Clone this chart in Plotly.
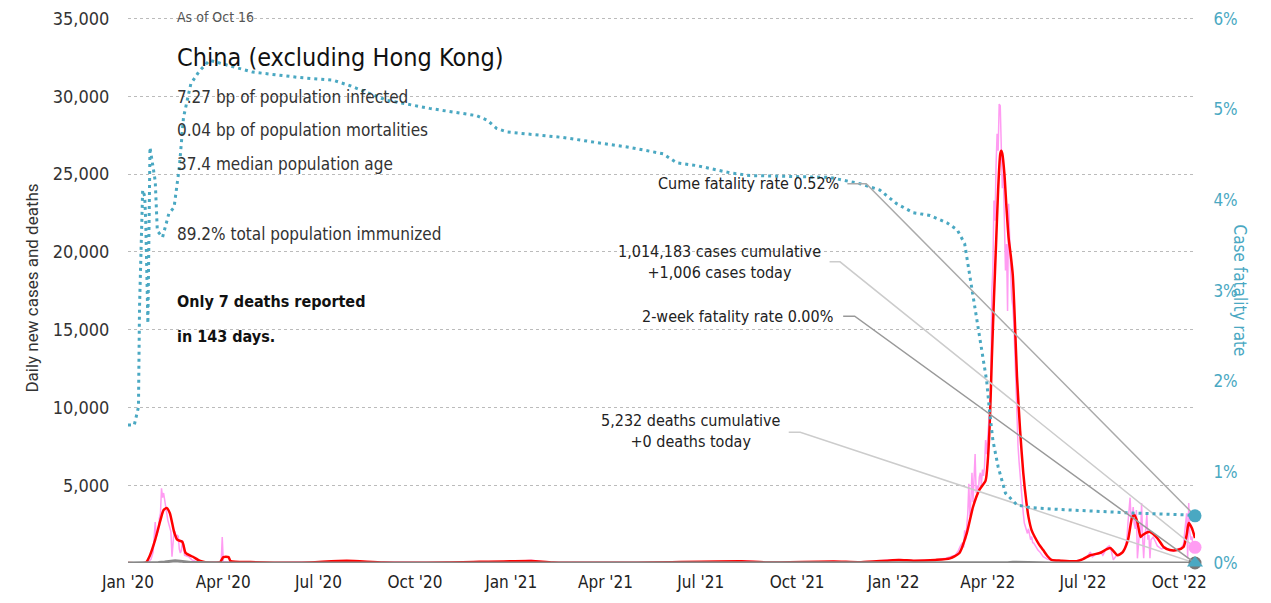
import plotly.graph_objects as go

# ---- 데이터 ----
avg_dates = [
    "2020-01-01", "2020-01-18", "2020-01-22", "2020-01-27", "2020-02-01", "2020-02-04",
    "2020-02-07", "2020-02-10", "2020-02-14", "2020-02-17", "2020-02-22", "2020-02-25",
    "2020-03-03", "2020-03-10", "2020-03-16", "2020-03-29", "2020-04-01", "2020-04-06",
    "2020-04-08", "2020-04-27", "2020-06-15", "2020-07-28", "2020-09-01", "2020-11-01",
    "2021-01-20", "2021-02-10", "2021-05-01", "2021-08-09", "2021-09-01", "2021-11-05",
    "2021-12-01", "2022-01-06", "2022-01-20", "2022-02-10", "2022-02-24", "2022-03-05",
    "2022-03-12", "2022-03-18", "2022-03-24", "2022-03-30", "2022-04-01", "2022-04-03",
    "2022-04-05", "2022-04-07", "2022-04-09", "2022-04-11", "2022-04-13", "2022-04-14",
    "2022-04-15", "2022-04-17", "2022-04-19", "2022-04-21", "2022-04-23", "2022-04-25",
    "2022-04-27", "2022-04-29", "2022-05-02", "2022-05-05", "2022-05-08", "2022-05-10",
    "2022-05-13", "2022-05-16", "2022-05-20", "2022-05-24", "2022-05-28", "2022-06-01",
    "2022-06-10", "2022-06-25", "2022-07-01", "2022-07-08", "2022-07-17", "2022-07-27",
    "2022-08-03", "2022-08-08", "2022-08-13", "2022-08-17", "2022-08-19", "2022-08-22",
    "2022-08-25", "2022-08-27", "2022-09-03", "2022-09-10", "2022-09-16", "2022-09-22",
    "2022-09-29", "2022-10-05", "2022-10-08", "2022-10-10", "2022-10-13", "2022-10-16",
]
avg_cases = [
    0, 30, 500, 1500, 2760, 3400,
    3530, 3200, 2000, 1500, 1350, 650,
    400, 130, 40, 60, 380, 380,
    120, 60, 20, 150, 30, 30,
    130, 30, 20, 110, 40, 100,
    50, 200, 150, 200, 300, 640,
    1900, 3600, 4700, 5300, 6500, 9000,
    13200, 17000, 20500, 24000, 26300, 26500,
    26300, 25000, 22800, 20900, 19800, 18500,
    15500, 12000, 8500, 5800, 3900, 2950,
    2100, 1670, 1200, 830, 450, 200,
    150, 120, 250, 500, 640, 960,
    500, 700, 1480, 2950, 3080, 2630,
    1670, 1800, 2000, 1600, 1030, 830,
    830, 1030, 1800, 2570, 2250, 1600,
]

daily_dates = [
    "2020-01-01", "2020-01-18", "2020-01-21", "2020-01-23", "2020-01-25", "2020-01-26",
    "2020-01-27", "2020-01-28", "2020-01-29", "2020-01-30", "2020-01-31", "2020-02-01",
    "2020-02-02", "2020-02-03", "2020-02-04", "2020-02-05", "2020-02-06", "2020-02-07",
    "2020-02-08", "2020-02-09", "2020-02-10", "2020-02-11", "2020-02-12", "2020-02-13",
    "2020-02-14", "2020-02-15", "2020-02-16", "2020-02-17", "2020-02-18", "2020-02-19",
    "2020-02-20", "2020-02-21", "2020-02-22", "2020-02-23", "2020-02-24", "2020-02-26",
    "2020-02-28", "2020-03-02", "2020-03-06", "2020-03-12", "2020-03-20", "2020-03-30",
    "2020-03-31", "2020-04-01", "2020-04-08", "2020-04-20", "2020-05-15", "2020-06-14",
    "2020-07-01", "2020-07-28", "2020-08-10", "2020-09-15", "2020-10-15", "2020-11-25",
    "2020-12-20", "2021-01-12", "2021-01-20", "2021-02-05", "2021-03-15", "2021-05-01",
    "2021-06-01", "2021-07-01", "2021-08-02", "2021-08-10", "2021-09-01", "2021-10-01",
    "2021-11-05", "2021-11-20", "2021-12-10", "2021-12-28", "2022-01-08", "2022-01-20",
    "2022-02-10", "2022-02-20", "2022-03-01", "2022-03-04", "2022-03-06", "2022-03-08",
    "2022-03-09", "2022-03-10", "2022-03-11", "2022-03-12", "2022-03-13", "2022-03-14",
    "2022-03-15", "2022-03-16", "2022-03-17", "2022-03-18", "2022-03-19", "2022-03-20",
    "2022-03-21", "2022-03-22", "2022-03-23", "2022-03-24", "2022-03-25", "2022-03-26",
    "2022-03-27", "2022-03-28", "2022-03-29", "2022-03-30", "2022-03-31", "2022-04-01",
    "2022-04-02", "2022-04-03", "2022-04-04", "2022-04-05", "2022-04-06", "2022-04-07",
    "2022-04-08", "2022-04-09", "2022-04-10", "2022-04-11", "2022-04-12", "2022-04-13",
    "2022-04-14", "2022-04-15", "2022-04-16", "2022-04-17", "2022-04-18", "2022-04-19",
    "2022-04-20", "2022-04-21", "2022-04-22", "2022-04-23", "2022-04-24", "2022-04-25",
    "2022-04-26", "2022-04-27", "2022-04-28", "2022-04-29", "2022-04-30", "2022-05-01",
    "2022-05-02", "2022-05-03", "2022-05-04", "2022-05-05", "2022-05-06", "2022-05-07",
    "2022-05-08", "2022-05-09", "2022-05-10", "2022-05-11", "2022-05-12", "2022-05-13",
    "2022-05-14", "2022-05-15", "2022-05-17", "2022-05-19", "2022-05-21", "2022-05-24",
    "2022-05-28", "2022-06-03", "2022-06-10", "2022-06-20", "2022-06-30", "2022-07-05",
    "2022-07-08", "2022-07-10", "2022-07-14", "2022-07-18", "2022-07-20", "2022-07-24",
    "2022-07-26", "2022-07-28", "2022-07-30", "2022-08-02", "2022-08-05", "2022-08-08",
    "2022-08-10", "2022-08-11", "2022-08-12", "2022-08-13", "2022-08-14", "2022-08-15",
    "2022-08-16", "2022-08-17", "2022-08-18", "2022-08-19", "2022-08-20", "2022-08-21",
    "2022-08-22", "2022-08-23", "2022-08-24", "2022-08-25", "2022-08-26", "2022-08-27",
    "2022-08-28", "2022-08-29", "2022-08-30", "2022-08-31", "2022-09-01", "2022-09-02",
    "2022-09-03", "2022-09-04", "2022-09-06", "2022-09-08", "2022-09-10", "2022-09-14",
    "2022-09-18", "2022-09-22", "2022-09-26", "2022-09-30", "2022-10-03", "2022-10-05",
    "2022-10-07", "2022-10-08", "2022-10-09", "2022-10-10", "2022-10-11", "2022-10-12",
    "2022-10-13", "2022-10-14", "2022-10-15", "2022-10-16",
]
daily_cases = [
    0, 20, 100, 250, 700, 1500,
    2630, 1700, 2000, 2100, 2900, 3200,
    4800, 4200, 4500, 4000, 3600, 3200,
    2760, 2500, 2200, 2000, 400, 1200,
    2100, 2000, 1500, 1800, 1700, 900,
    640, 800, 1480, 1000, 500, 450,
    400, 200, 100, 30, 50, 60,
    1670, 100, 60, 20, 10, 50,
    20, 150, 60, 20, 30, 30,
    30, 130, 180, 30, 15, 20,
    30, 30, 120, 130, 40, 30,
    100, 50, 80, 200, 220, 150,
    200, 300, 500, 800, 1100, 1300,
    1000, 2100, 1500, 2500, 3200, 5100,
    3000, 4000, 5800, 3900, 5300, 7000,
    4500, 5000, 4400, 5500, 5800, 5000,
    6000, 5600, 6200, 7900, 7000, 8500,
    9000, 10000, 11100, 17500, 19000, 23300,
    22000, 25500, 27600, 26500, 29500, 29400,
    26000, 24100, 25000, 21000, 18800, 20500,
    16200, 23100, 20000, 18600, 17000, 16500,
    15400, 13000, 11000, 9000, 7500, 6500,
    5500, 4700, 4000, 3200, 2570, 2300,
    2100, 1900, 2200, 1930, 1500, 1700,
    1300, 1280, 1000, 830, 700, 400,
    250, 150, 150, 100, 200, 400,
    700, 400, 600, 700, 500, 1000,
    1100, 800, 200, 500, 600, 700,
    900, 1300, 1600, 2600, 3400, 4200,
    2800, 3000, 3600, 2500, 2200, 3400,
    300, 1500, 2000, 1700, 3850, 1600,
    300, 1800, 2200, 3080, 1500, 1800,
    300, 1500, 1670, 1400, 1100, 900,
    1000, 800, 750, 900, 1000, 1200,
    2570, 3200, 300, 3850, 2000, 1500,
    1700, 1200, 1100, 1006,
]

death_dates = [
    "2020-01-01", "2020-01-20", "2020-01-25", "2020-01-30", "2020-02-05", "2020-02-10",
    "2020-02-15", "2020-02-20", "2020-02-25", "2020-03-01", "2020-03-08", "2020-03-15",
    "2020-03-25", "2020-04-10", "2020-05-01", "2022-04-10", "2022-04-20", "2022-04-25",
    "2022-05-01", "2022-05-10", "2022-05-20", "2022-06-01", "2022-10-16",
]
daily_deaths = [
    0, 0, 15, 40, 70, 100,
    140, 120, 60, 40, 25, 10,
    5, 1, 0, 0, 20, 50,
    40, 20, 5, 0, 0,
]

cfr_dates = [
    "2020-01-01", "2020-01-07", "2020-01-11", "2020-01-12", "2020-01-15", "2020-01-17",
    "2020-01-18", "2020-01-20", "2020-01-22", "2020-01-25", "2020-01-27", "2020-01-29",
    "2020-02-03", "2020-02-09", "2020-02-14", "2020-02-19", "2020-02-23", "2020-03-01",
    "2020-03-09", "2020-03-19", "2020-04-17", "2020-04-29", "2020-06-13", "2020-07-15",
    "2020-07-31", "2020-08-16", "2020-09-04", "2020-10-15", "2020-11-29", "2020-12-09",
    "2020-12-18", "2020-12-28", "2021-02-19", "2021-04-24", "2021-05-26", "2021-06-08",
    "2021-06-27", "2021-07-29", "2021-08-17", "2021-11-01", "2021-11-30", "2021-12-19",
    "2022-01-04", "2022-01-20", "2022-02-05", "2022-02-21", "2022-03-03", "2022-03-10",
    "2022-03-13", "2022-03-17", "2022-03-22", "2022-03-27", "2022-03-31", "2022-04-03",
    "2022-04-06", "2022-04-11", "2022-04-18", "2022-04-29", "2022-05-12", "2022-06-09",
    "2022-08-18", "2022-10-08", "2022-10-16",
]
cfr_pct = [
    1.52, 1.52, 1.72, 2.82, 4.11, 4.04,
    3.74, 2.64, 4.58, 4.36, 4.21, 3.66,
    3.59, 3.85, 3.92, 4.36, 4.91, 5.28,
    5.42, 5.54, 5.45, 5.41, 5.35, 5.32,
    5.26, 5.19, 5.10, 5.01, 4.93, 4.88,
    4.79, 4.75, 4.69, 4.58, 4.51, 4.41,
    4.38, 4.30, 4.27, 4.25, 4.18, 4.11,
    3.96, 3.86, 3.83, 3.75, 3.67, 3.52,
    3.30, 3.01, 2.68, 2.31, 2.01, 1.65,
    1.35, 1.06, 0.77, 0.64, 0.61, 0.59,
    0.55, 0.53, 0.52,
]
cfr_values = [v / 100 for v in cfr_pct]

last_date = "2022-10-16"
cases_today = 1006
deaths_today = 0
cume_cfr = 0.0052
two_week_cfr = 0.0

y_ticks = [5000, 10000, 15000, 20000, 25000, 30000, 35000]
y2_ticks = [0, 0.01, 0.02, 0.03, 0.04, 0.05, 0.06]

# ---- 스타일 ----
FONT = "DejaVu Sans Condensed, DejaVu Sans, sans-serif"
PINK = "#ff9cf2"
RED = "#ff0000"
TEAL = "#4aa8c2"
GRAY = "#888888"

# 맨 위 격자선이 그려지도록 범위를 살짝 넓힘 (두 축 비율은 동일하게 유지)
Y_TOP = 35100
Y2_TOP = 0.06 * Y_TOP / 35000

fig = go.Figure()

fig.add_trace(go.Scatter(x=daily_dates, y=daily_cases, mode="lines",
                         line=dict(color=PINK, width=1.5), hoverinfo="skip"))
fig.add_trace(go.Scatter(x=avg_dates, y=avg_cases, mode="lines",
                         line=dict(color=RED, width=2.5, shape="spline", smoothing=0.6),
                         hoverinfo="skip"))
fig.add_trace(go.Scatter(x=death_dates, y=daily_deaths, mode="lines",
                         line=dict(color=GRAY, width=3), hoverinfo="skip"))
fig.add_trace(go.Scatter(x=cfr_dates, y=cfr_values, mode="lines", yaxis="y2",
                         line=dict(color=TEAL, width=3, dash="3px,4px"), hoverinfo="skip"))

# 라벨에서 끝점으로 가는 연결선
connectors = [
    # (stub start, stub end, stub level, end value, axis, colour)
    ("2021-11-18", "2021-12-06", 0.0418, cume_cfr, "y2", "#aaaaaa"),
    ("2021-11-01", "2021-11-11", 19360, cases_today, "y", "#cccccc"),
    ("2021-11-14", "2021-11-25", 0.0272, two_week_cfr, "y2", "#999999"),
    ("2021-09-23", "2021-10-04", 8410, deaths_today, "y", "#cccccc"),
]
for x0, x1, lvl, end, ax, col in connectors:
    fig.add_trace(go.Scatter(x=[x0, x1, last_date], y=[lvl, lvl, end], mode="lines",
                             yaxis=ax, line=dict(color=col, width=1.5), hoverinfo="skip"))

# 끝점 마커
fig.add_trace(go.Scatter(x=[last_date], y=[deaths_today], mode="markers", cliponaxis=False,
                         marker=dict(color="#777777", size=13), hoverinfo="skip"))
fig.add_trace(go.Scatter(x=[last_date], y=[cases_today], mode="markers", cliponaxis=False,
                         marker=dict(color=PINK, size=13), hoverinfo="skip"))
fig.add_trace(go.Scatter(x=[last_date], y=[cume_cfr], yaxis="y2", mode="markers",
                         cliponaxis=False, marker=dict(color=TEAL, size=13), hoverinfo="skip"))
fig.add_trace(go.Scatter(x=[last_date], y=[two_week_cfr], yaxis="y2", mode="markers",
                         cliponaxis=False, marker=dict(color=TEAL, size=14, symbol="triangle-up"),
                         hoverinfo="skip"))

# ---- 텍스트 ----
def note(text, y, size, color="#333333", x=0.044):
    fig.add_annotation(text=text, x=x, y=y, xref="paper", yref="paper", xanchor="left",
                       yanchor="middle", showarrow=False, font=dict(size=size, color=color))

note("As of Oct 16", 1.0, 14, "#555555")
note("China (excluding Hong Kong)", 0.9266, 25, "#111111")
note("7.27 bp of population infected", 0.853, 17)
note("0.04 bp of population mortalities", 0.7927, 17)
note("37.4 median population age", 0.730, 17)
note("89.2% total population immunized", 0.6018, 17)
note("<b>Only 7 deaths reported</b>", 0.4789, 16, "#111111")
note("<b>in 143 days.</b>", 0.4147, 16, "#111111")

right_labels = [
    ("Cume fatality rate 0.52%", "2021-11-12", 24400, "right"),
    ("1,014,183 cases cumulative<br>+1,006 cases today", "2021-07-19", 19360, "center"),
    ("2-week fatality rate 0.00%", "2021-11-06", 15860, "right"),
    ("5,232 deaths cumulative<br>+0 deaths today", "2021-06-22", 8480, "center"),
]
for txt, xd, yv, anc in right_labels:
    fig.add_annotation(text=txt, x=xd, y=yv, xanchor=anc, yanchor="middle", align="center",
                       showarrow=False, font=dict(size=16, color="#222222"))

fig.add_annotation(text="Daily new cases and deaths", x=-0.101, y=0.503, xref="paper",
                   yref="paper", textangle=-90, showarrow=False,
                   font=dict(size=17, color="#333333", family="Roboto, sans-serif"))
fig.add_annotation(text="Case fatality rate", x=1.0534, y=0.499, xref="paper", yref="paper",
                   textangle=90, showarrow=False, font=dict(size=17, color=TEAL))

# 페이지 body 여백(8px)을 감안한 여백
fig.update_layout(
    width=1271, height=603,
    margin=dict(l=120, r=84, t=9, b=48),
    plot_bgcolor="white", paper_bgcolor="white",
    showlegend=False,
    font=dict(family=FONT, size=18, color="#333333"),
    xaxis=dict(range=["2020-01-01", last_date], type="date", tick0="2020-01-01", dtick="M3",
               tickformat="%b '%y", showgrid=False, zeroline=False, showline=False,
               ticks="outside", ticklen=4, tickcolor="rgba(0,0,0,0)", automargin=False,
               ticklabeloverflow="allow", tickfont=dict(size=17, color="#222222")),
    yaxis=dict(range=[0, Y_TOP], tickvals=y_ticks, tickformat=",d", showgrid=True,
               gridcolor="#bbbbbb", griddash="dot", gridwidth=1, zeroline=False,
               ticks="outside", ticklen=14, tickcolor="rgba(0,0,0,0)", automargin=False,
               ticklabeloverflow="allow", tickfont=dict(size=18, color="#333333")),
    yaxis2=dict(range=[0, Y2_TOP], tickvals=y2_ticks, tickformat=".0%", overlaying="y",
                side="right", showgrid=False, zeroline=False, ticks="outside", ticklen=14,
                tickcolor="rgba(0,0,0,0)", automargin=False, ticklabeloverflow="allow",
                tickfont=dict(size=17, color=TEAL)),
)

fig.write_html("out.html")
